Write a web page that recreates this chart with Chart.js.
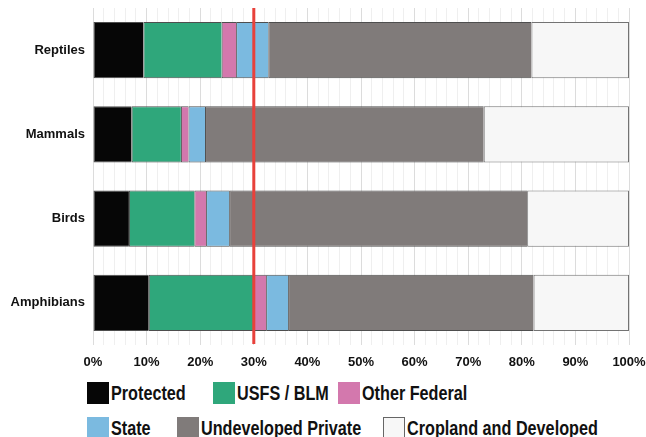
<!DOCTYPE html>
<html>
<head>
<meta charset="utf-8">
<script src="https://cdn.jsdelivr.net/npm/chart.js@4.4.0/dist/chart.umd.min.js"></script>
<style>
  html, body { margin: 0; padding: 0; background: #fff; }
  body { width: 646px; height: 437px; position: relative; overflow: hidden; }
  #wrap { position: absolute; left: 0; top: 0; width: 646px; height: 373px; }
  .item { position: absolute; height: 22px; white-space: nowrap; font-family: "Liberation Sans", Arial, sans-serif; font-weight: bold; font-size: 20px; color: #111; }
  .box { position: absolute; left: 0; top: 0; width: 22px; height: 22px; box-sizing: border-box; }
  .lbl { position: absolute; left: 24px; top: 0; line-height: 22px; display: inline-block; transform: scaleX(0.81); transform-origin: 0 50%; }
</style>
</head>
<body>
<div id="wrap"><canvas id="c" width="646" height="373"></canvas></div>
<div id="legend"></div>
<script>
const categories = ['Reptiles', 'Mammals', 'Birds', 'Amphibians'];
const seriesNames = ['Protected', 'USFS / BLM', 'Other Federal', 'State', 'Undeveloped Private', 'Cropland and Developed'];
const protectedVals = [9.4, 7.2, 6.7, 10.4];
const usfsBlmVals = [14.6, 9.2, 12.2, 19.5];
const otherFederalVals = [2.7, 1.4, 2.2, 2.4];
const stateVals = [6.0, 3.1, 4.3, 4.1];
const undevelopedPrivateVals = [49.1, 52.0, 55.6, 45.8];
const croplandDevelopedVals = [18.2, 27.1, 19.0, 17.8];
const thresholdValue = 30;

const seriesValues = [protectedVals, usfsBlmVals, otherFederalVals, stateVals, undevelopedPrivateVals, croplandDevelopedVals];
const seriesColors = ['#060606', '#2fa77b', '#d378ad', '#7bbae0', '#807b7a', '#f7f7f7'];
const seriesBorders = ['#4e4e4e', '#4e4e4e', '#4e4e4e', '#4e4e4e', '#4e4e4e', '#737373'];
const FONT = '"Liberation Sans", Arial, sans-serif';

// legend layout (pixel placement of legend items: [left, top])
const legendPlacement = [[87, 382], [213, 382], [338, 382], [87, 417], [177, 417], [383, 417]];

const datasets = seriesNames.map((name, i) => ({
  label: name,
  data: seriesValues[i],
  backgroundColor: seriesColors[i],
  borderColor: seriesBorders[i],
  borderWidth: { left: 1, top: 1, bottom: 1, right: i === seriesNames.length - 1 ? 1 : 0 },
  borderSkipped: false,
  barPercentage: 0.67,
  categoryPercentage: 1.0
}));

const thresholdLine = {
  id: 'thresholdLine',
  afterDatasetsDraw(chart) {
    const { ctx, chartArea, scales } = chart;
    const x = scales.x.getPixelForValue(thresholdValue);
    ctx.save();
    ctx.strokeStyle = '#e8413b';
    ctx.lineWidth = 3;
    ctx.beginPath();
    ctx.moveTo(x, chartArea.top);
    ctx.lineTo(x, chartArea.bottom - 1);
    ctx.stroke();
    ctx.restore();
  }
};

new Chart(document.getElementById('c'), {
  type: 'bar',
  data: { labels: categories, datasets },
  options: {
    indexAxis: 'y',
    responsive: false,
    animation: false,
    layout: { padding: { top: 8, right: 17, left: 0, bottom: 0 } },
    plugins: { legend: { display: false }, tooltip: { enabled: false } },
    scales: {
      x: {
        stacked: true,
        min: 0,
        max: 100,
        border: { display: false },
        grid: {
          drawTicks: false,
          color: (c) => (c.tick && c.tick.value % 10 === 0) ? '#dcdcdc' : '#efefef',
          lineWidth: 1
        },
        ticks: {
          stepSize: 2,
          autoSkip: false,
          maxRotation: 0,
          padding: 10,
          color: '#111',
          font: { family: FONT, weight: 'bold', size: 13 },
          callback: (v) => (v % 10 === 0) ? v + '%' : ''
        },
        afterFit(scale) { scale.paddingLeft = 0; scale.paddingRight = 0; scale.height = 28; }
      },
      y: {
        stacked: true,
        border: { display: false },
        grid: { display: false, drawTicks: false },
        ticks: {
          padding: 8,
          color: '#111',
          font: { family: FONT, weight: 'bold', size: 13 }
        },
        afterFit(scale) { scale.width = 93; scale.paddingTop = 0; scale.paddingBottom = 0; }
      }
    }
  },
  plugins: [thresholdLine]
});

const legend = document.getElementById('legend');
seriesNames.forEach((name, i) => {
  const it = document.createElement('div');
  it.className = 'item';
  it.style.left = legendPlacement[i][0] + 'px';
  it.style.top = legendPlacement[i][1] + 'px';
  const b = document.createElement('div');
  b.className = 'box';
  b.style.background = seriesColors[i];
  if (i === seriesNames.length - 1) b.style.border = '1px solid #666';
  const t = document.createElement('span');
  t.className = 'lbl';
  t.textContent = name;
  it.appendChild(b);
  it.appendChild(t);
  legend.appendChild(it);
});
</script>
</body>
</html>
